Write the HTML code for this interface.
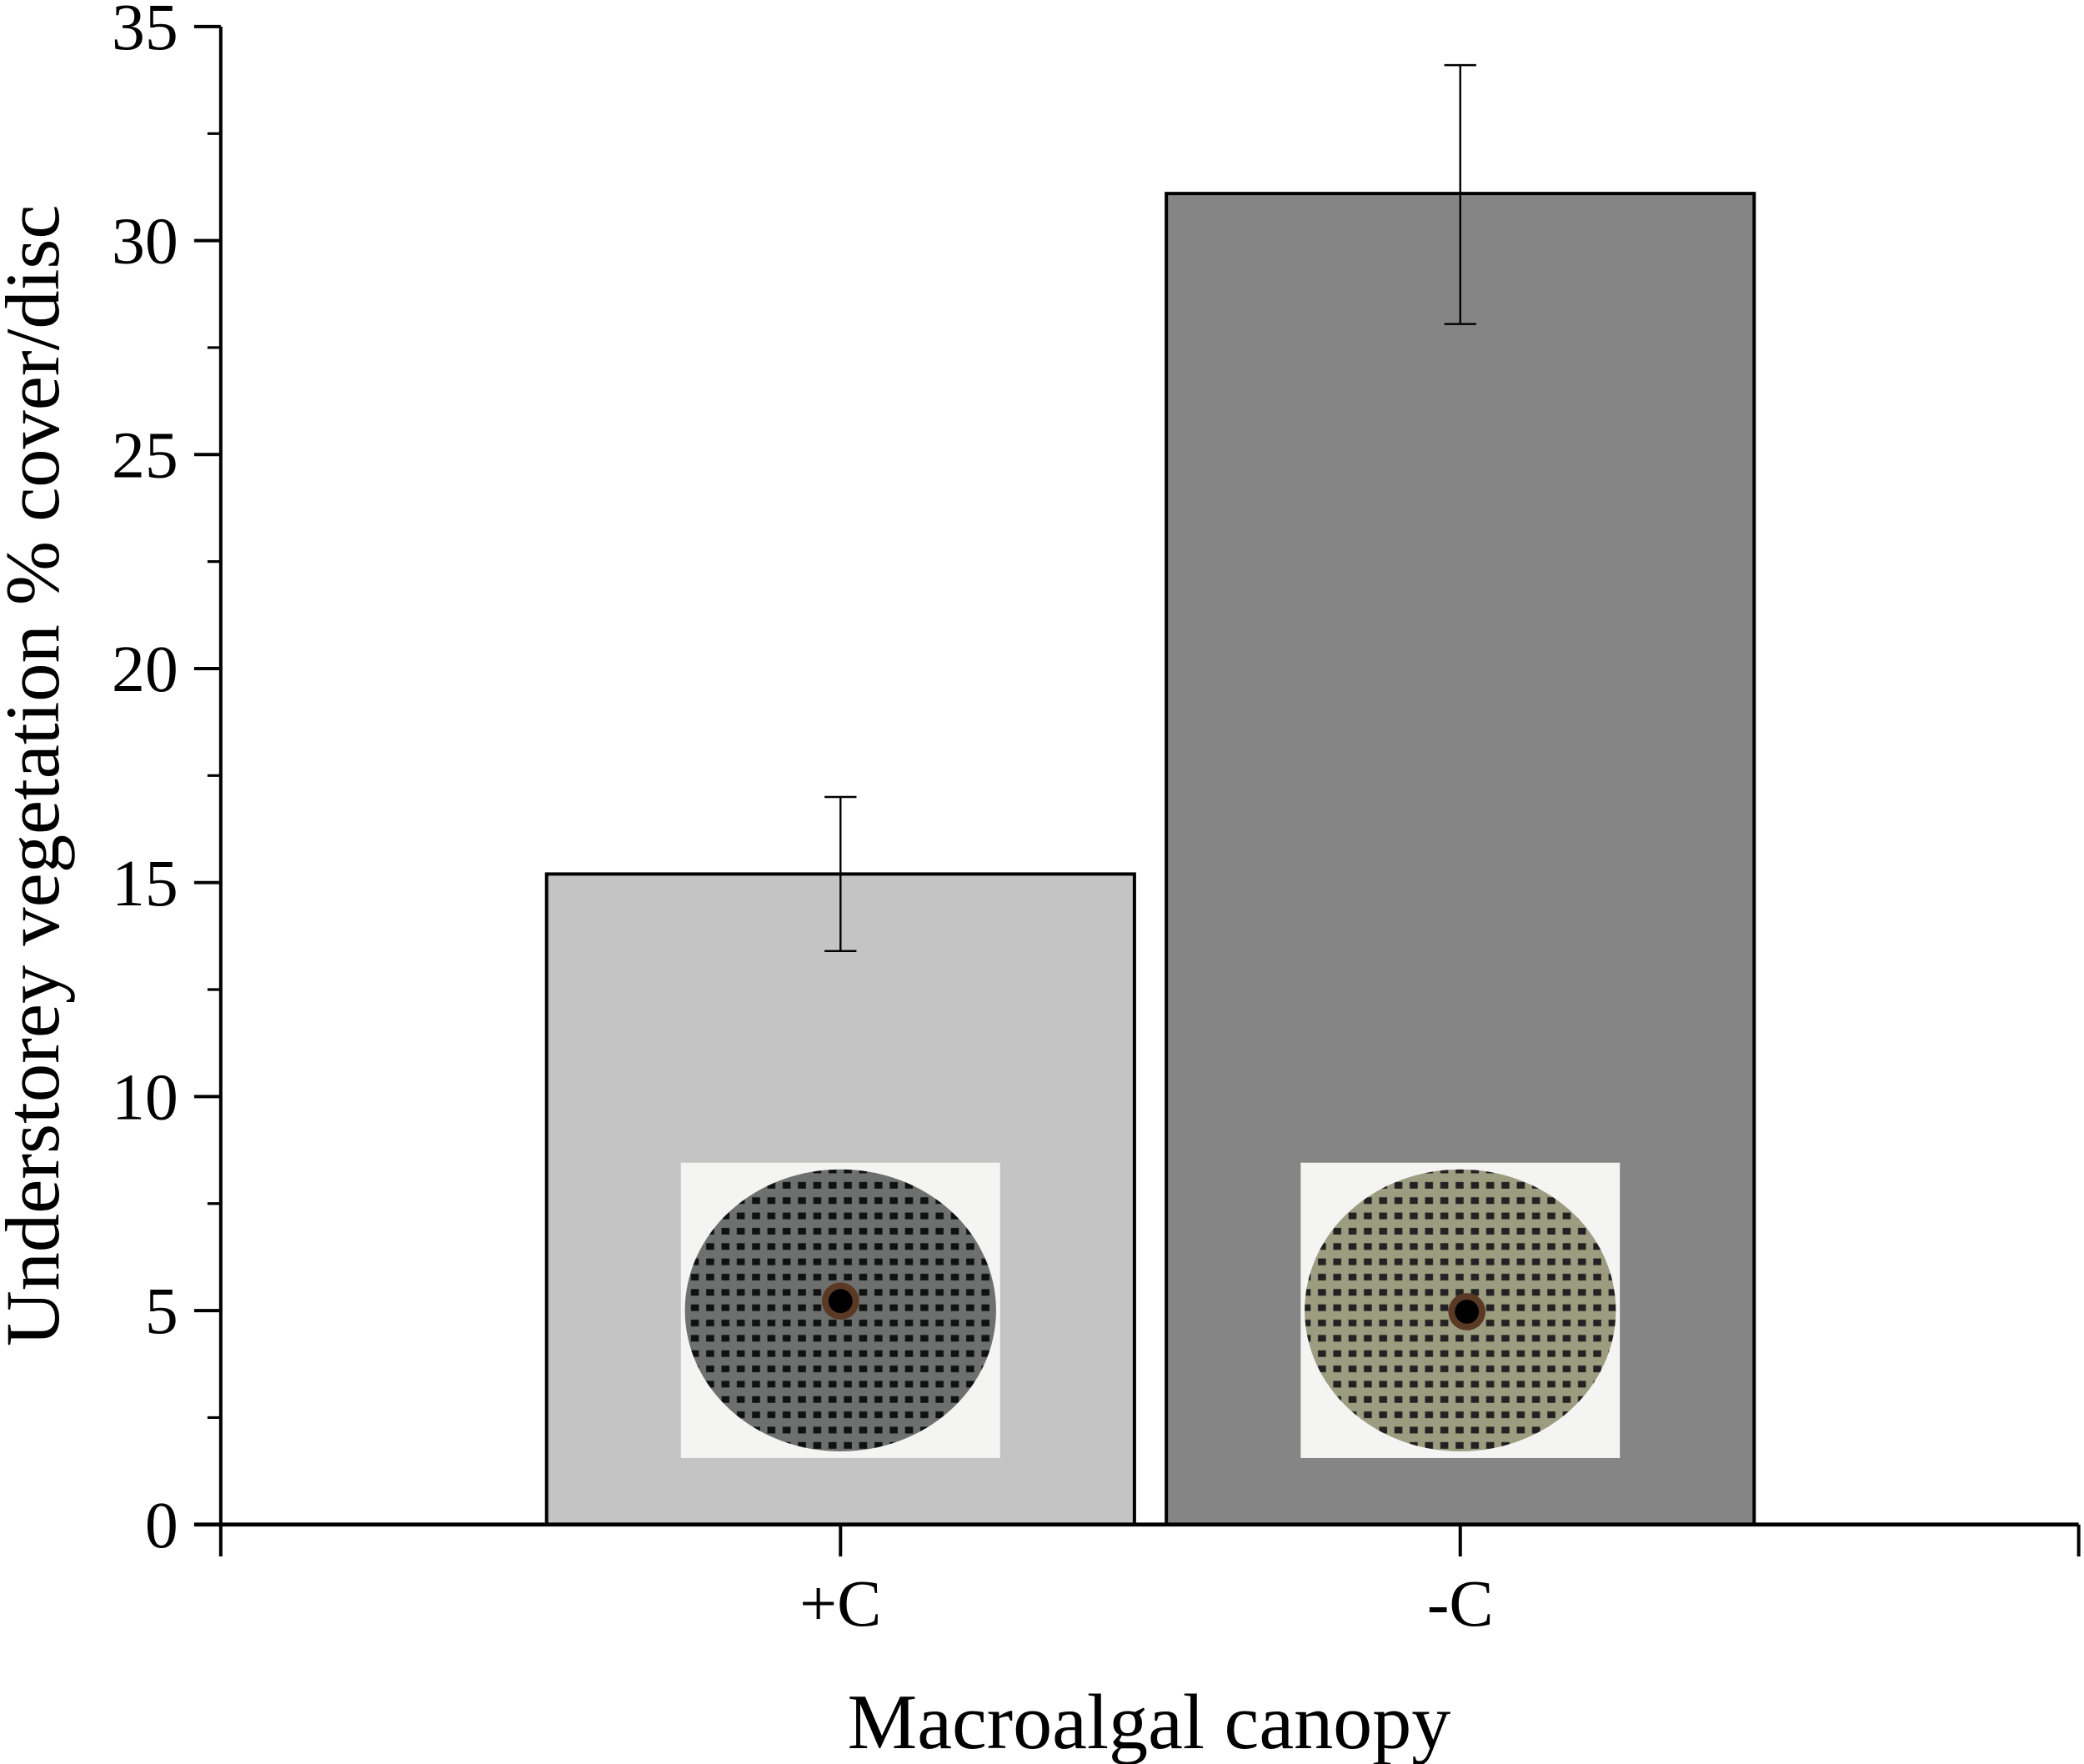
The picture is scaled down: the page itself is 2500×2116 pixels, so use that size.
<!DOCTYPE html>
<html><head><meta charset="utf-8"><style>
html,body{margin:0;padding:0;background:#fff}
svg{display:block}
text{font-family:"Liberation Serif",serif;fill:#000}
</style></head><body>
<svg id="chart" width="2500" height="2116" viewBox="0 0 1567 1326" preserveAspectRatio="none" xmlns="http://www.w3.org/2000/svg">
<defs>
<pattern id="holes1" width="11.5" height="11.5" patternUnits="userSpaceOnUse">
<rect width="11.5" height="11.5" fill="#6e7070"/><rect x="2" y="3" width="6" height="5" fill="#111"/>
</pattern>
<pattern id="holes2" width="11.5" height="11.5" patternUnits="userSpaceOnUse">
<rect width="11.5" height="11.5" fill="#9c9c80"/><rect x="2" y="3" width="6" height="5" fill="#222"/>
</pattern>
</defs>
<g id="plot"></g>
<text transform="translate(44,583) rotate(-90)" text-anchor="middle" font-size="58">Understorey vegetation % cover/disc</text>
<text x="864" y="1314" text-anchor="middle" font-size="59">Macroalgal canopy</text>
</svg>
<script>
const categories = ['+C', '-C'];
const values = [15.2, 31.1];
const errLow = [13.4, 28.05];
const errHigh = [17.0, 34.1];
const yTicks = [0, 5, 10, 15, 20, 25, 30, 35];
const fills = ['#c4c4c4', '#858585'];

const NS = 'http://www.w3.org/2000/svg';
const g = document.getElementById('plot');
const x0 = 166, x1 = 1563, yBase = 1146, yTop = 20, yMax = 35;
const y = v => yBase - (v / yMax) * (yBase - yTop);
const centers = [632, 1098];
const xc = i => centers[0] + i * (centers[1] - centers[0]);
const barW = 442;
function mk(tag, attrs) { const e = document.createElementNS(NS, tag); for (const k in attrs) e.setAttribute(k, attrs[k]); g.appendChild(e); return e; }

categories.forEach((c, i) => {
  const cx = xc(i);
  const b = mk('rect', {x: cx - barW / 2, y: y(values[i]), width: barW, height: yBase - y(values[i]), fill: fills[i], stroke: '#000', 'stroke-width': 2.5});
  
  
  const px = cx - 120, py = 874;
  const ph = mk('rect', {x: px, y: py, width: 240, height: 222, fill: '#f4f4f2'});
  
  
  const d = mk('ellipse', {cx: cx, cy: py + 111, rx: 117, ry: 106, fill: 'url(#holes' + (i + 1) + ')'});
  
  
  const h1 = mk('circle', {cx: cx + (i ? 5 : 0), cy: py + 104 + (i ? 8 : 0), r: 14, fill: '#5a3a25'});
  
  
  const h2 = mk('circle', {cx: cx + (i ? 5 : 0), cy: py + 104 + (i ? 8 : 0), r: 9, fill: '#000'});
  
  
  const e = mk('path', {d: `M${cx},${y(errLow[i])}V${y(errHigh[i])}M${cx - 12},${y(errHigh[i])}H${cx + 12}M${cx - 12},${y(errLow[i])}H${cx + 12}`, stroke: '#000', 'stroke-width': 1.5, fill: 'none'});
  
  
  const t = mk('text', {x: cx, y: 1222, 'text-anchor': 'middle', 'font-size': 50});
  t.textContent = c;
  
  
  const tk = mk('line', {x1: cx, x2: cx, y1: yBase, y2: 1170, stroke: '#000', 'stroke-width': 2.5});
  
  
});
const ya = mk('line', {x1: x0, x2: x0, y1: yTop, y2: 1170, stroke: '#000', 'stroke-width': 2.5});


const xa = mk('line', {x1: 146, x2: x1, y1: yBase, y2: yBase, stroke: '#000', 'stroke-width': 3});


const te = mk('line', {x1: x1, x2: x1, y1: yBase, y2: 1170, stroke: '#000', 'stroke-width': 2.5});


yTicks.forEach((v, i) => {
  const l = mk('line', {x1: 146, x2: x0, y1: y(v), y2: y(v), stroke: '#000', 'stroke-width': 2.5});
  
  
  if (i < yTicks.length - 1) {
    const m = mk('line', {x1: 156, x2: x0, y1: y(v + 2.5), y2: y(v + 2.5), stroke: '#000', 'stroke-width': 2});
    
    
  }
  const t = mk('text', {x: 134, y: y(v) + 17, 'text-anchor': 'end', 'font-size': 50});
  t.textContent = v;
  
  
});
</script>
</body></html>
